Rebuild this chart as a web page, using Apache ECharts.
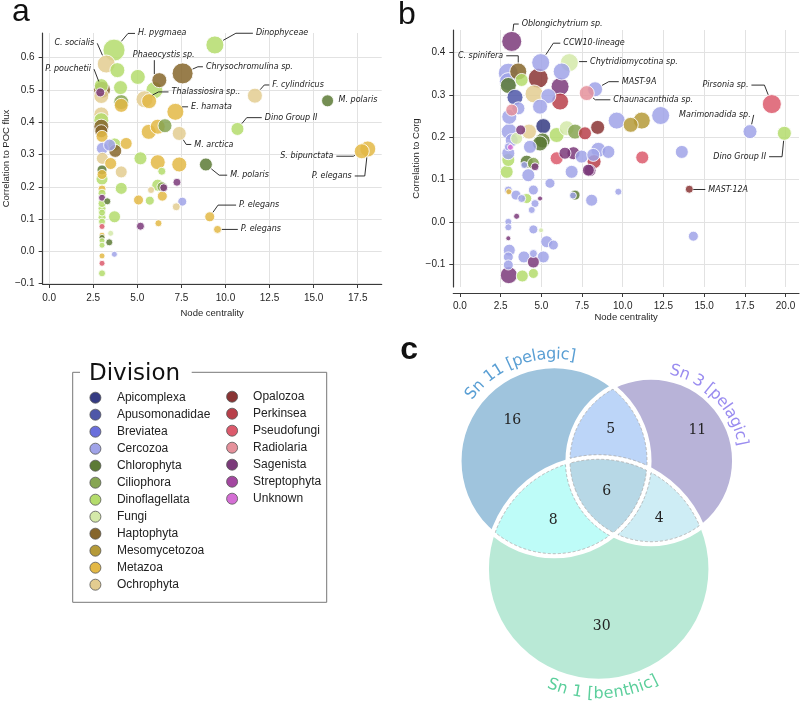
<!DOCTYPE html>
<html><head><meta charset="utf-8">
<script src="https://cdn.jsdelivr.net/npm/echarts@6/dist/echarts.min.js"></script>
<style>html,body{margin:0;padding:0;background:#fff}#c{width:800px;height:705px}</style>
</head><body><div id="c"></div>
<script>
// ---------- divisions ----------
const divisions = ['Apicomplexa','Apusomonadidae','Breviatea','Cercozoa','Chlorophyta','Ciliophora','Dinoflagellata','Fungi','Haptophyta','Mesomycetozoa','Metazoa','Ochrophyta','Opalozoa','Perkinsea','Pseudofungi','Radiolaria','Sagenista','Streptophyta','Unknown'];
const divisionColors = ['#353b83','#4f57a8','#6a6fdc','#a0a3e8','#5c7a35','#86a552','#b4dc6c','#d4e9a9','#86662c','#b59a38','#e3b845','#e3cc90','#893434','#b8404a','#dc5a6c','#e5919b','#7b3a7a','#a347a0','#d46ed4'];

// ---------- panel a : node centrality vs correlation to POC flux ----------
const aCentrality = [3.68,3.24,3.87,5.03,6.25,7.57,5.97,5.41,5.67,7.16,4.05,4.09,4.09,2.96,3.0,2.9,2.96,2.96,2.96,2.96,2.96,3.0,3.02,3.43,3.71,3.75,4.37,3.02,3.49,5.18,6.16,7.38,4.09,3.0,6.39,3.0,3.0,4.09,6.16,6.4,6.5,7.25,5.78,3.0,6.42,5.07,5.71,7.55,7.21,3.0,3.3,3.0,3.71,3.0,3.0,3.0,5.18,6.2,3.49,3.0,3.0,3.41,3.0,3.0,3.70,3.0,3.0,3.0,9.40,11.67,15.79,10.68,7.38,8.89,17.73,18.07,9.11,9.55,5.65,6.16,6.57,3.0,3.0,3.0];
const aCorrelation = [0.623,0.580,0.561,0.540,0.530,0.551,0.499,0.471,0.465,0.432,0.507,0.462,0.452,0.513,0.500,0.492,0.481,0.424,0.406,0.386,0.372,0.356,0.319,0.329,0.331,0.311,0.334,0.288,0.272,0.288,0.276,0.269,0.246,0.252,0.248,0.238,0.224,0.195,0.205,0.200,0.197,0.214,0.190,0.193,0.171,0.159,0.157,0.154,0.138,0.166,0.155,0.133,0.107,0.105,0.092,0.077,0.078,0.087,0.056,0.050,0.043,0.028,0.033,0.019,-0.009,-0.014,-0.037,-0.068,0.639,0.482,0.466,0.379,0.365,0.269,0.310,0.317,0.107,0.068,0.370,0.386,0.389,0.180,0.148,0.120];
const aSize = [22,18,15,15,15,21,17,17,15,17,14,15,14,14,17,9,15,15,15,15,13,12,12,12,13,13,12,12,12,13,15,15,12,10,8,10,12,12,12,10,8,8,7,8,10,10,9,9,8,7,7,8,12,8,7,6,8,7,6,6,6,7,6,6,6,6,6,7,18,15,12,13,14,13,15,16,10,8,15,15,14,8,8,7];
const aDivision = ['Dinoflagellata','Ochrophyta','Dinoflagellata','Dinoflagellata','Haptophyta','Haptophyta','Dinoflagellata','Ochrophyta','Metazoa','Metazoa','Dinoflagellata','Ciliophora','Metazoa','Dinoflagellata','Haptophyta','Sagenista','Ochrophyta','Ochrophyta','Dinoflagellata','Haptophyta','Haptophyta','Metazoa','Cercozoa','Cercozoa','Dinoflagellata','Haptophyta','Metazoa','Ochrophyta','Metazoa','Dinoflagellata','Metazoa','Metazoa','Ochrophyta','Chlorophyta','Dinoflagellata','Metazoa','Dinoflagellata','Dinoflagellata','Dinoflagellata','Ciliophora','Sagenista','Sagenista','Ochrophyta','Metazoa','Metazoa','Metazoa','Dinoflagellata','Cercozoa','Ochrophyta','Sagenista','Chlorophyta','Dinoflagellata','Dinoflagellata','Dinoflagellata','Dinoflagellata','Pseudofungi','Sagenista','Metazoa','Fungi','Metazoa','Chlorophyta','Chlorophyta','Dinoflagellata','Dinoflagellata','Cercozoa','Metazoa','Pseudofungi','Dinoflagellata','Dinoflagellata','Ochrophyta','Chlorophyta','Dinoflagellata','Ochrophyta','Chlorophyta','Metazoa','Metazoa','Metazoa','Metazoa','Metazoa','Metazoa','Ciliophora','Dinoflagellata','Dinoflagellata','Dinoflagellata'];
const aAnnotIndex = [0,1,14,4,5,7,9,72,68,69,70,71,73,74,75,76,77];
const aAnnotText = ['H. pygmaea','C. socialis','P. pouchetii','Phaeocystis sp.','Chrysochromulina sp.','Thalassiosira sp..','E. hamata','M. arctica','Dinophyceae','F. cylindricus','M. polaris','Dino Group II','M. polaris','S. bipunctata','P. elegans','P. elegans','P. elegans'];
const aXTicks = [0,2.5,5,7.5,10,12.5,15,17.5];
const aYTicks = [-0.1,0,0.1,0.2,0.3,0.4,0.5,0.6];

// ---------- panel b : node centrality vs correlation to Corg ----------
const bCentrality = [3.18,4.96,6.72,3.58,2.97,2.97,2.97,3.79,4.81,6.25,6.15,8.30,7.79,3.38,4.55,5.43,6.15,4.92,3.18,3.59,3.03,3.03,4.24,5.12,5.08,5.94,6.56,7.07,7.68,8.46,9.63,10.49,11.17,12.33,17.82,19.16,19.93,14.09,14.34,9.73,13.63,11.2,8.09,8.5,9.12,8.24,7.99,6.97,6.45,5.94,7.48,6.86,5.53,7.07,6.94,4.51,4.92,4.61,4.41,4.10,3.79,3.48,3.44,2.97,3.0,2.97,2.97,2.97,4.51,4.98,5.33,5.74,3.03,3.93,4.51,5.12,2.97,4.51,3.0,3.83,4.51,2.97,2.87,2.97,2.97,4.10,3.95,4.51,4.61,4.2,4.92,2.97,3.18,4.3,3.48,3.73,8.19,7.89,3.1];
const bCorrelation = [0.426,0.376,0.376,0.355,0.351,0.331,0.322,0.335,0.339,0.355,0.319,0.313,0.304,0.294,0.302,0.297,0.284,0.272,0.264,0.268,0.248,0.213,0.213,0.226,0.192,0.205,0.221,0.213,0.209,0.223,0.239,0.229,0.239,0.251,0.213,0.278,0.209,0.077,-0.034,0.071,0.165,0.152,0.051,0.170,0.165,0.142,0.121,0.162,0.162,0.150,0.154,0.118,0.091,0.063,0.062,0.075,0.055,0.043,0.028,0.055,0.055,0.013,0.063,0.075,0.071,0.0,-0.013,-0.039,-0.018,-0.020,-0.047,-0.055,-0.067,-0.083,-0.075,-0.083,-0.083,-0.095,-0.126,-0.128,-0.122,-0.102,0.118,0.146,0.162,0.142,0.134,0.138,0.130,0.110,0.185,0.177,0.193,0.177,0.197,0.217,0.158,0.122,0.176];
const bSize = [20,18,18,17,20,18,16,13,20,17,18,15,15,16,18,15,17,15,12,13,15,16,15,15,15,15,15,15,13,14,17,15,17,18,14,19,14,8,10,7,13,13,12,15,13,14,12,13,12,13,13,13,10,10,7,10,5,8,7,10,8,6,10,8,6,7,7,5,9,5,12,10,12,12,8,12,10,12,17,12,10,10,13,13,13,13,7,12,8,13,15,8,13,13,12,10,13,12,6];
const bDivision = ['Sagenista','Cercozoa','Fungi','Haptophyta','Cercozoa','Cercozoa','Chlorophyta','Dinoflagellata','Opalozoa','Cercozoa','Sagenista','Cercozoa','Radiolaria','Apusomonadidae','Ochrophyta','Cercozoa','Perkinsea','Cercozoa','Radiolaria','Cercozoa','Cercozoa','Cercozoa','Ochrophyta','Apicomplexa','Chlorophyta','Dinoflagellata','Fungi','Ciliophora','Perkinsea','Opalozoa','Cercozoa','Mesomycetozoa','Mesomycetozoa','Cercozoa','Cercozoa','Pseudofungi','Dinoflagellata','Opalozoa','Cercozoa','Cercozoa','Cercozoa','Pseudofungi','Cercozoa','Cercozoa','Cercozoa','Perkinsea','Sagenista','Sagenista','Sagenista','Pseudofungi','Cercozoa','Cercozoa','Cercozoa','Chlorophyta','Cercozoa','Cercozoa','Sagenista','Cercozoa','Cercozoa','Dinoflagellata','Cercozoa','Sagenista','Cercozoa','Cercozoa','Metazoa','Cercozoa','Cercozoa','Sagenista','Cercozoa','Fungi','Cercozoa','Cercozoa','Cercozoa','Cercozoa','Cercozoa','Cercozoa','Cercozoa','Sagenista','Sagenista','Dinoflagellata','Dinoflagellata','Cercozoa','Dinoflagellata','Dinoflagellata','Cercozoa','Chlorophyta','Cercozoa','Ciliophora','Sagenista','Cercozoa','Chlorophyta','Cercozoa','Cercozoa','Cercozoa','Fungi','Sagenista','Cercozoa','Sagenista','Unknown'];
const bAnnotIndex = [0,1,2,3,11,12,35,34,36,37];
const bAnnotText = ['Oblongichytrium sp.','CCW10-lineage','Chytridiomycotina sp.','C. spinifera','MAST-9A','Chaunacanthida sp.','Pirsonia sp.','Marimonadida sp.','Dino Group II','MAST-12A'];
const bXTicks = [0,2.5,5,7.5,10,12.5,15,17.5,20];
const bYTicks = [-0.1,0,0.1,0.2,0.3,0.4];

// ---------- panel c : Venn ----------
const vennSetNames = ['Sn 11 [pelagic]','Sn 3 [pelagic]','Sn 1 [benthic]'];
const vennRegions = ['Sn 11','Sn 3','Sn 1','Sn 11 & Sn 3','Sn 11 & Sn 1','Sn 3 & Sn 1','Sn 11 & Sn 3 & Sn 1'];
const vennCounts = [16,11,30,5,8,4,6];

// ---------- layout (positions / styles) ----------
const aAnnotLayout = [[24,-16.7,'left',7],[-12,-20.7,'right',0],[-11,-20.7,'right',0],[4.4,-25,'above',-5],[23.3,-6.6,'left',5],[27,-7.3,'left',10],[15.7,-5,'left',6],[15,11,'left',5],[41,-11.7,'left',17],[17.4,-10.7,'left',5],[11,-0.7,'left',-1],[27.3,-11.3,'left',15],[24.3,10.7,'left',8],[-28.4,5,'right',17],[-16,27,'right',10],[29.3,-11.7,'left',18],[23.3,0,'left',16]];
const bAnnotLayout = [[10,-17.4,'left',5],[22.6,-19.4,'left',7],[20.7,-1,'left',8],[-15,-15.7,'right',12],[26.7,-7.6,'left',10],[26.6,6.7,'left',15],[-23.4,-19,'right',13],[0.7,-16.7,'right',0],[-18.3,23.4,'right',13],[19,0.3,'left',12]];
const vennCircles = [[154.3,141,95],[251,140.7,83.3],[198.7,249,112]];
const vennCountPos = [[112.3,100],[297.3,110.7],[201.7,306.7],[210.7,109.3],[153.3,200],[259.3,198.3],[206.7,171.7]];
const vennRegionColors = ['#9fc4dd','#b8b3d8','#b9e9d6','#bcd5f8','#befcf8','#ceedf5','#b7d8e6'];
const vennLabelColors = ['#5a9fd4','#9a8cf0','#5ccf9c'];
const vennLabelArc = [[-111,106.5,'cw'],[-43.8,92.5,'cw'],[88,125,'ccw']];

const FONT = 'Liberation Sans';
const AX = '#3a3a3a', TXT = '#262626', GRID = '#e2e2e2';
function fmt(v){ const s = Math.abs(v).toFixed(1); return v < -1e-9 ? '\u2212' + s : s; }
function colorOf(d){ return divisionColors[divisions.indexOf(d)]; }
function bubbleData(xs, ys, ss, ds){
  const idx = xs.map((_, i) => i).sort((p, q) => ss[q] - ss[p]);
  return idx.map(i => ({ value: [xs[i], ys[i], ss[i]], itemStyle: { color: colorOf(ds[i]) } }));
}
function annotRender(layout, texts){
  return function(params, api){
    const i = params.dataIndex;
    const p = api.coord([api.value(0), api.value(1)]);
    const r = api.value(2) / 2;
    const [dx, dy, align, h] = layout[i];
    const tx = p[0] + dx, ty = p[1] + dy;
    const ls = { stroke: '#1a1a1a', lineWidth: 0.9, fill: 'none' };
    const children = [];
    if (align === 'above') {
      const lx = p[0] + h;
      const yEdge = p[1] - Math.sqrt(Math.max(r * r - h * h, 0));
      children.push({ type: 'polyline', shape: { points: [[lx, ty + 5], [lx, yEdge - 0.5]] }, style: ls });
    } else if (h >= 0) {
      const sg = align === 'left' ? 1 : -1;
      const end = [tx - sg * 3, ty];
      const elbow = [end[0] - sg * h, ty];
      const vx = elbow[0] - p[0], vy = elbow[1] - p[1];
      const d = Math.hypot(vx, vy);
      let pts = [];
      if (d > r + 1) {
        pts = [[p[0] + vx / d * (r + 0.5), p[1] + vy / d * (r + 0.5)], elbow];
        if (h > 0) pts.push(end);
      } else if (h > 0) {
        pts = [elbow, end];
      }
      if (pts.length > 1) children.push({ type: 'polyline', shape: { points: pts }, style: ls });
    }
    children.push({ type: 'text', style: { text: texts[i], x: tx, y: ty, align: align === 'above' ? 'center' : align, verticalAlign: 'middle', font: 'italic 8px "DejaVu Sans"', fill: '#1a1a1a' } });
    return { type: 'group', children };
  };
}
function regionBoundary(C, inSet, outSet, s){
  const N = 900, pts = [];
  const inside = (p, j, rr) => (p[0] - C[j].x) ** 2 + (p[1] - C[j].y) ** 2 < rr * rr;
  inSet.forEach(i => {
    const R = C[i].r - s;
    for (let k = 0; k < N; k++) {
      const t = 2 * Math.PI * k / N, p = [C[i].x + R * Math.cos(t), C[i].y + R * Math.sin(t)];
      if (inSet.every(j => j === i || inside(p, j, C[j].r - s)) && outSet.every(j => !inside(p, j, C[j].r + s))) pts.push(p);
    }
  });
  outSet.forEach(i => {
    const R = C[i].r + s;
    for (let k = 0; k < N; k++) {
      const t = 2 * Math.PI * k / N, p = [C[i].x + R * Math.cos(t), C[i].y + R * Math.sin(t)];
      if (inSet.every(j => inside(p, j, C[j].r - s)) && outSet.every(j => j === i || !inside(p, j, C[j].r + s))) pts.push(p);
    }
  });
  const cx = pts.reduce((a, p) => a + p[0], 0) / pts.length, cy = pts.reduce((a, p) => a + p[1], 0) / pts.length;
  pts.sort((p, q) => Math.atan2(p[1] - cy, p[0] - cx) - Math.atan2(q[1] - cy, q[0] - cx));
  return pts;
}
const measureCtx = document.createElement('canvas').getContext('2d');
function vennRender(params, api){
  const C = vennCircles.map(([x, y, r]) => { const p = api.coord([x, y]); return { x: p[0], y: p[1], r: api.size([r, 0])[0] }; });
  const ch = [];
  [0, 1, 2].forEach(i => ch.push({ type: 'circle', shape: { cx: C[i].x, cy: C[i].y, r: C[i].r }, style: { fill: vennRegionColors[i] } }));
  [[0, 1], [0, 2], [1, 2], [0, 1, 2]].forEach((set, k) => ch.push({ type: 'polygon', shape: { points: regionBoundary(C, set, [], 0) }, style: { fill: vennRegionColors[3 + k] } }));
  C.forEach(c => ch.push({ type: 'circle', shape: { cx: c.x, cy: c.y, r: c.r }, style: { fill: 'none', stroke: '#ffffff', lineWidth: 4.5 } }));
  [[[0, 1], [2]], [[0, 2], [1]], [[1, 2], [0]], [[0, 1, 2], []]].forEach(([a, b]) => ch.push({ type: 'polygon', shape: { points: regionBoundary(C, a, b, 2.3) }, style: { fill: 'none', stroke: '#a8a8a8', lineWidth: 0.8, lineDash: [3, 2] } }));
  vennCounts.forEach((v, i) => { const p = api.coord(vennCountPos[i]); ch.push({ type: 'text', style: { text: String(v), x: p[0], y: p[1], align: 'center', verticalAlign: 'middle', font: '14px "DejaVu Serif"', fill: '#222' } }); });
  const font = '16px "DejaVu Sans"';
  measureCtx.font = font;
  vennSetNames.forEach((name, i) => {
    const [mid, rr, dir] = vennLabelArc[i];
    const R = api.size([rr, 0])[0];
    const chars = [...name];
    const w = chars.map(c => measureCtx.measureText(c).width);
    const total = w.reduce((a, b) => a + b, 0);
    let cum = 0;
    chars.forEach((c, k) => {
      const sArc = cum + w[k] / 2 - total / 2; cum += w[k];
      const m = mid * Math.PI / 180;
      const th = dir === 'cw' ? m + sArc / R : m - sArc / R;
      const rot = dir === 'cw' ? -(th + Math.PI / 2) : -(th - Math.PI / 2);
      const x = C[i].x + R * Math.cos(th), y = C[i].y + R * Math.sin(th);
      ch.push({ type: 'text', x, y, rotation: rot, style: { text: c, x: 0, y: 0, align: 'center', verticalAlign: 'middle', font, fill: vennLabelColors[i] } });
    });
  });
  return { type: 'group', children: ch };
}
function gridSeries(xi, xt, yt){
  return { type: 'scatter', xAxisIndex: xi, yAxisIndex: xi, data: [[xt[1], yt[1]]], symbolSize: 0, silent: true, z: 0,
    markLine: { silent: true, z: 1, symbol: ['none', 'none'], label: { show: false }, emphasis: { disabled: true }, animation: false,
      lineStyle: { color: GRID, width: 1, type: 'solid' }, data: xt.map(v => ({ xAxis: v })).concat(yt.map(v => ({ yAxis: v }))) } };
}
function valueAxis(o){
  return Object.assign({ type: 'value', splitLine: { show: false }, z: 4,
    axisLine: { show: true, onZero: false, lineStyle: { color: AX, width: 1.2 } },
    axisTick: { show: true, length: 4, customValues: o.ticks, lineStyle: { color: AX, width: 1 } },
    axisLabel: { customValues: o.ticks, formatter: fmt, fontSize: 10, color: TXT, fontFamily: FONT, margin: o.margin },
    nameLocation: 'middle', nameTextStyle: { fontSize: 9.5, color: TXT, fontFamily: FONT } }, o.extra);
}
const legendCommon = { orient: 'vertical', padding: 0, itemWidth: 11, itemHeight: 11, itemGap: 5.0, icon: 'circle', selectedMode: false,
  itemStyle: { borderColor: '#555', borderWidth: 0.8, opacity: 1 } };
const dummySeries = divisions.map((d, i) => ({ type: 'scatter', name: d, xAxisIndex: 0, yAxisIndex: 0, data: [], itemStyle: { color: divisionColors[i] } }));

const chart = echarts.init(document.getElementById('c'));
chart.setOption({
  animation: false,
  textStyle: { fontFamily: FONT },
  grid: [
    { left: 41, top: 33, right: 418.3, bottom: 421 },
    { left: 453.3, top: 30, right: 1, bottom: 418 },
    { left: 400, top: 320, width: 400, height: 385 }
  ],
  xAxis: [
    valueAxis({ ticks: aXTicks, margin: 9, extra: { gridIndex: 0, min: -0.367, max: 18.86, name: 'Node centrality', nameGap: 24 } }),
    valueAxis({ ticks: bXTicks, margin: 8, extra: { gridIndex: 1, min: -0.41, max: 20.83, offset: 6, name: 'Node centrality', nameGap: 18 } }),
    { gridIndex: 2, type: 'value', min: 0, max: 400, show: false }
  ],
  yAxis: [
    valueAxis({ ticks: aYTicks, margin: 8, extra: { gridIndex: 0, min: -0.101, max: 0.676, name: 'Correlation to POC flux', nameGap: 29 } }),
    valueAxis({ ticks: bYTicks, margin: 8, extra: { gridIndex: 1, min: -0.154, max: 0.453, name: 'Correlation to Corg', nameGap: 31 } }),
    { gridIndex: 2, type: 'value', min: 0, max: 385, inverse: true, show: false }
  ],
  legend: [
    Object.assign({}, legendCommon, { left: 89.5, top: 391.7, data: divisions.slice(0, 12), textStyle: { fontSize: 12, fontFamily: FONT, color: '#222', lineHeight: 11, padding: [0, 0, 0, 11] } }),
    Object.assign({}, legendCommon, { left: 226.2, top: 390.7, data: divisions.slice(12), textStyle: { fontSize: 12, fontFamily: FONT, color: '#222', lineHeight: 11, padding: [0, 0, 0, 10.5] } })
  ],
  graphic: [
    { type: 'text', x: 12, y: 12.2, style: { text: 'a', font: '32px "Liberation Sans"', fill: '#111', align: 'left', verticalAlign: 'middle' } },
    { type: 'text', x: 398, y: 15.6, style: { text: 'b', font: '32px "Liberation Sans"', fill: '#111', align: 'left', verticalAlign: 'middle' } },
    { type: 'text', x: 400.3, y: 350.6, style: { text: 'c', font: 'bold 32px "Liberation Sans"', fill: '#111', align: 'left', verticalAlign: 'middle' } },
    { type: 'polyline', shape: { points: [[80, 372.3], [72.7, 372.3], [72.7, 602.3], [326.7, 602.3], [326.7, 372.3], [191.7, 372.3]] }, style: { stroke: '#777', lineWidth: 1, fill: 'none' } },
    { type: 'text', x: 89, y: 374, style: { text: 'Division', font: '23px "DejaVu Sans"', fill: '#111', align: 'left', verticalAlign: 'middle' } }
  ],
  series: [
    gridSeries(0, aXTicks, aYTicks),
    gridSeries(1, bXTicks, bYTicks),
    { type: 'scatter', name: 'a-points', xAxisIndex: 0, yAxisIndex: 0, z: 2, symbolSize: v => v[2],
      itemStyle: { opacity: 0.85, borderColor: '#fff', borderWidth: 1 }, data: bubbleData(aCentrality, aCorrelation, aSize, aDivision) },
    { type: 'scatter', name: 'b-points', xAxisIndex: 1, yAxisIndex: 1, z: 2, symbolSize: v => v[2],
      itemStyle: { opacity: 0.85, borderColor: '#fff', borderWidth: 1 }, data: bubbleData(bCentrality, bCorrelation, bSize, bDivision) },
    { type: 'custom', name: 'a-annot', xAxisIndex: 0, yAxisIndex: 0, z: 3, clip: false, silent: true,
      data: aAnnotIndex.map(i => [aCentrality[i], aCorrelation[i], aSize[i]]), renderItem: annotRender(aAnnotLayout, aAnnotText) },
    { type: 'custom', name: 'b-annot', xAxisIndex: 1, yAxisIndex: 1, z: 3, clip: false, silent: true,
      data: bAnnotIndex.map(i => [bCentrality[i], bCorrelation[i], bSize[i]]), renderItem: annotRender(bAnnotLayout, bAnnotText) },
    { type: 'custom', name: 'venn', xAxisIndex: 2, yAxisIndex: 2, clip: false, silent: true, data: [[0, 0]], renderItem: vennRender }
  ].concat(dummySeries)
});
</script></body></html>
